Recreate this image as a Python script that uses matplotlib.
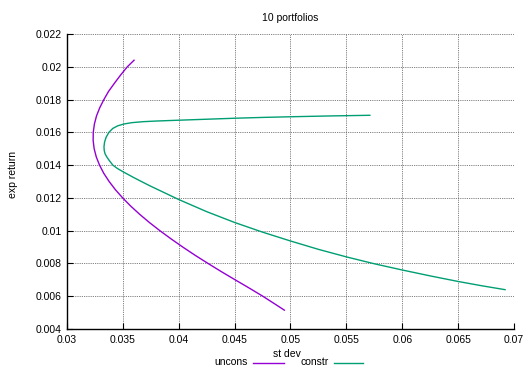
import matplotlib
matplotlib.use('Agg')
import matplotlib.pyplot as plt
from matplotlib.lines import Line2D
from matplotlib.ticker import FuncFormatter

# frontera sin restricciones (st dev, exp return)
uncons_ret = [0.0204, 0.0200, 0.0195, 0.0190, 0.0185, 0.0180, 0.0175, 0.0170,
              0.0165, 0.0160, 0.0155, 0.0150, 0.0145, 0.0140, 0.0135, 0.0130,
              0.0125, 0.0120, 0.0115, 0.0110, 0.0105, 0.0100, 0.0095, 0.0090,
              0.0085, 0.0080, 0.0075, 0.0070, 0.0065, 0.0060, 0.0055, 0.00515]
uncons_sd = [0.0360, 0.0354, 0.0348, 0.03425, 0.03372, 0.0333, 0.03293, 0.03264,
             0.03245, 0.03235, 0.03234, 0.03243, 0.03262, 0.03291, 0.03329, 0.03377,
             0.03433, 0.03498, 0.0357, 0.0365, 0.03737, 0.03831, 0.03931, 0.04036,
             0.04146, 0.04262, 0.04381, 0.04505, 0.0463, 0.04752, 0.04866, 0.04945]

# frontera con restricciones
constr_sd = [0.0571, 0.0535, 0.0500, 0.0475, 0.0450, 0.0425, 0.0400, 0.0380,
             0.0368, 0.0358, 0.0351, 0.03455, 0.0341, 0.03375, 0.0335, 0.03336,
             0.03331, 0.03333, 0.0334, 0.03356, 0.03376, 0.0341, 0.0345, 0.0350,
             0.0360, 0.0370, 0.0375, 0.0400, 0.0425, 0.0450, 0.0475, 0.0500,
             0.0525, 0.0550, 0.0575, 0.0600, 0.0625, 0.0650, 0.0671, 0.0692]
constr_ret = [0.01704, 0.01700, 0.01695, 0.01691, 0.01686, 0.01680, 0.01674, 0.01669,
              0.01665, 0.01659, 0.01651, 0.01640, 0.01624, 0.01600, 0.01570, 0.01540,
              0.01512, 0.01490, 0.01470, 0.01450, 0.01430, 0.01400, 0.01380, 0.01360,
              0.01323, 0.01288, 0.01271, 0.01190, 0.01116, 0.01050, 0.00991, 0.00937,
              0.00886, 0.00840, 0.00798, 0.00760, 0.00724, 0.00690, 0.00664, 0.00640]

x_ticks = [0.03, 0.035, 0.04, 0.045, 0.05, 0.055, 0.06, 0.065, 0.07]
y_ticks = [0.004, 0.006, 0.008, 0.01, 0.012, 0.014, 0.016, 0.018, 0.02, 0.022]

color_uncons = '#9400d3'
color_constr = '#009e73'

plt.rcParams['font.family'] = ['Liberation Sans', 'DejaVu Sans']

fig = plt.figure(figsize=(5.24, 3.69), dpi=100)
ax = fig.add_axes([67/524, 40/369, 447/524, 295/369])

ax.plot(uncons_sd, uncons_ret, color=color_uncons, lw=1.0, solid_joinstyle='round')
ax.plot(constr_sd, constr_ret, color=color_constr, lw=1.0, solid_joinstyle='round')

ax.set_xlim(0.03, 0.07)
ax.set_ylim(0.004, 0.022)
ax.set_xticks(x_ticks)
ax.set_yticks(y_ticks)
fmt = FuncFormatter(lambda v, p: '%g' % round(v, 4))
ax.xaxis.set_major_formatter(fmt)
ax.yaxis.set_major_formatter(fmt)
ax.tick_params(direction='in', length=4, width=0.8, labelsize=7.5, pad=4)

ax.grid(True, color='#555555', linestyle=(0, (1, 1.2)), linewidth=0.6)
ax.set_axisbelow(True)
ax.spines['top'].set_visible(False)
ax.spines['right'].set_visible(False)
ax.spines['left'].set_linewidth(1.0)
ax.spines['bottom'].set_linewidth(1.0)

fig.text(290/524, 1 - 18/369, '10 portfolios', ha='center', va='center', fontsize=7.5)
fig.text(13/524, 1 - 174/369, 'exp return', ha='center', va='center', rotation=90, fontsize=7.5)
fig.text(287/524, 1 - 354/369, 'st dev', ha='center', va='center', fontsize=7.5)

# leyenda abajo
fig.text(248/524, 1 - 362/369, 'uncons', ha='right', va='center', fontsize=7.5)
fig.add_artist(Line2D([253/524, 284/524], [1 - 363/369, 1 - 363/369], color=color_uncons, lw=1.0))
fig.text(329/524, 1 - 362/369, 'constr', ha='right', va='center', fontsize=7.5)
fig.add_artist(Line2D([334/524, 363/524], [1 - 363/369, 1 - 363/369], color=color_constr, lw=1.0))

fig.savefig('out.png', dpi=100)
